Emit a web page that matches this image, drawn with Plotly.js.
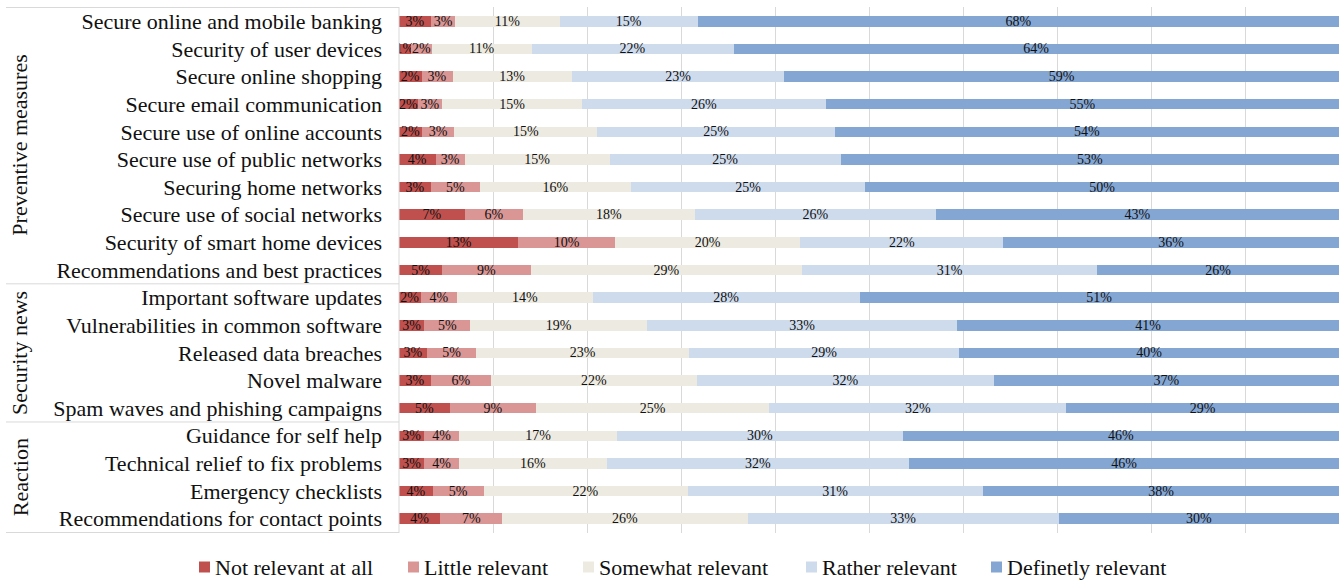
<!DOCTYPE html>
<html>
<head>
<meta charset="utf-8">
<script src="https://cdn.plot.ly/plotly-3.0.1.min.js"></script>
<style>html,body{margin:0;padding:0;background:#fff;}#chart{width:1340px;height:582px;}</style>
</head>
<body>
<div id="chart"></div>
<script>
const categories = [
  "Secure online and mobile banking",
  "Security of user devices",
  "Secure online shopping",
  "Secure email communication",
  "Secure use of online accounts",
  "Secure use of public networks",
  "Securing home networks",
  "Secure use of social networks",
  "Security of smart home devices",
  "Recommendations and best practices",
  "Important software updates",
  "Vulnerabilities in common software",
  "Released data breaches",
  "Novel malware",
  "Spam waves and phishing campaigns",
  "Guidance for self help",
  "Technical relief to fix problems",
  "Emergency checklists",
  "Recommendations for contact points"
];
const groups = ["Preventive measures", "Security news", "Reaction"];
const groupSizes = [10, 5, 4];
const seriesNames = ["Not relevant at all", "Little relevant", "Somewhat relevant", "Rather relevant", "Definetly relevant"];

const notRelevant      = [3.4, 1.3, 2.4, 2.0, 2.45, 3.9, 3.4, 7.0, 12.7, 4.6, 2.3, 2.7, 3.0, 3.4, 5.4, 2.7, 2.7, 3.6, 4.4];
const littleRelevant   = [2.6, 2.2, 3.3, 2.6, 3.45, 3.1, 5.2, 6.2, 10.3, 9.4, 3.9, 4.9, 5.2, 6.4, 9.2, 3.7, 3.7, 5.4, 6.6];
const somewhatRelevant = [11.1, 10.6, 12.7, 14.9, 15.2, 15.4, 16.1, 18.3, 19.7, 28.9, 14.4, 18.8, 22.7, 21.9, 24.8, 16.8, 15.7, 21.7, 26.1];
const ratherRelevant   = [14.7, 21.5, 22.6, 25.9, 25.3, 24.6, 24.9, 25.6, 21.6, 31.4, 28.4, 33.0, 28.7, 31.6, 31.6, 30.4, 32.2, 31.4, 33.1];
const definetlyRelevant= [68.2, 64.4, 59.0, 54.6, 53.6, 53.0, 50.4, 42.9, 35.7, 25.7, 51.0, 40.6, 40.4, 36.7, 29.0, 46.4, 45.7, 38.0, 29.8];

const colors = ["#C0504D", "#DA9694", "#EDEBE1", "#CEDBEC", "#84A6D3"];
const allSeries = [notRelevant, littleRelevant, somewhatRelevant, ratherRelevant, definetlyRelevant];

const serif = "Liberation Serif, DejaVu Serif, serif";

const traces = allSeries.map((vals, i) => ({
  type: "bar",
  orientation: "h",
  name: seriesNames[i],
  y: categories,
  x: vals,
  marker: {color: colors[i], line: {width: 0}},
  text: vals.map(v => Math.round(v) + "%"),
  textposition: "inside",
  insidetextanchor: "middle",
  constraintext: "none",
  textangle: 0,
  textfont: {family: serif, size: 14, color: "#111"},
  hoverinfo: "x+y+name",
  showlegend: false
}));

// pixel -> paper helpers (plot area: x 399..1339, y 7..533)
const PL = 399, PW = 940, PT = 7, PH = 526;
const px2x = p => (p - PL) / PW;
const py2y = p => (PT + PH - p) / PH;

const shapes = [];
const annotations = [];
const lineColor = "#D9D9D9";
let start = 0;
const xLeft = px2x(6);
shapes.push({type: "line", xref: "paper", yref: "y", x0: xLeft, x1: 0, y0: -0.5, y1: -0.5, line: {color: lineColor, width: 1}});
groups.forEach((g, i) => {
  const end = start + groupSizes[i];
  shapes.push({type: "line", xref: "paper", yref: "y", x0: xLeft, x1: 0, y0: end - 0.5, y1: end - 0.5, line: {color: lineColor, width: 1}});
  annotations.push({
    xref: "paper", yref: "y", x: px2x(20), y: (start + end - 1) / 2,
    text: g, textangle: -90, showarrow: false,
    font: {family: serif, size: 22, color: "#111"},
    xanchor: "center", yanchor: "middle"
  });
  start = end;
});
shapes.push({type: "line", xref: "paper", yref: "paper", x0: 0, x1: 0, y0: 0, y1: 1, line: {color: lineColor, width: 1}});

// legend (drawn below the plot)
const legendLeft = [199, 408, 583, 806, 991];
const legendY = 567;
seriesNames.forEach((n, i) => {
  shapes.push({type: "rect", xref: "paper", yref: "paper",
    x0: px2x(legendLeft[i]), x1: px2x(legendLeft[i] + 11),
    y0: py2y(legendY + 5.5), y1: py2y(legendY - 5.5),
    fillcolor: colors[i], line: {width: 0}});
  annotations.push({xref: "paper", yref: "paper", x: px2x(legendLeft[i] + 14), y: py2y(legendY),
    text: n, showarrow: false, xanchor: "left", yanchor: "middle",
    font: {family: serif, size: 22, color: "#111"}});
});

const layout = {
  width: 1340, height: 582,
  margin: {l: 399, r: 1, t: 7, b: 49, autoexpand: false},
  barmode: "stack",
  bargap: 0.62,
  paper_bgcolor: "#fff",
  plot_bgcolor: "#fff",
  showlegend: false,
  xaxis: {
    range: [0, 100], showticklabels: false, showgrid: true, gridcolor: "#D9D9D9", gridwidth: 1,
    dtick: 10, zeroline: false, showline: false, fixedrange: true
  },
  yaxis: {
    type: "category", autorange: "reversed", showgrid: false, zeroline: false, showline: false,
    ticks: "", ticklabelstandoff: 16,
    tickfont: {family: serif, size: 22, color: "#111"}, fixedrange: true
  },
  shapes: shapes,
  annotations: annotations
};

Plotly.newPlot("chart", traces, layout, {displayModeBar: false, staticPlot: true});
</script>
</body>
</html>
